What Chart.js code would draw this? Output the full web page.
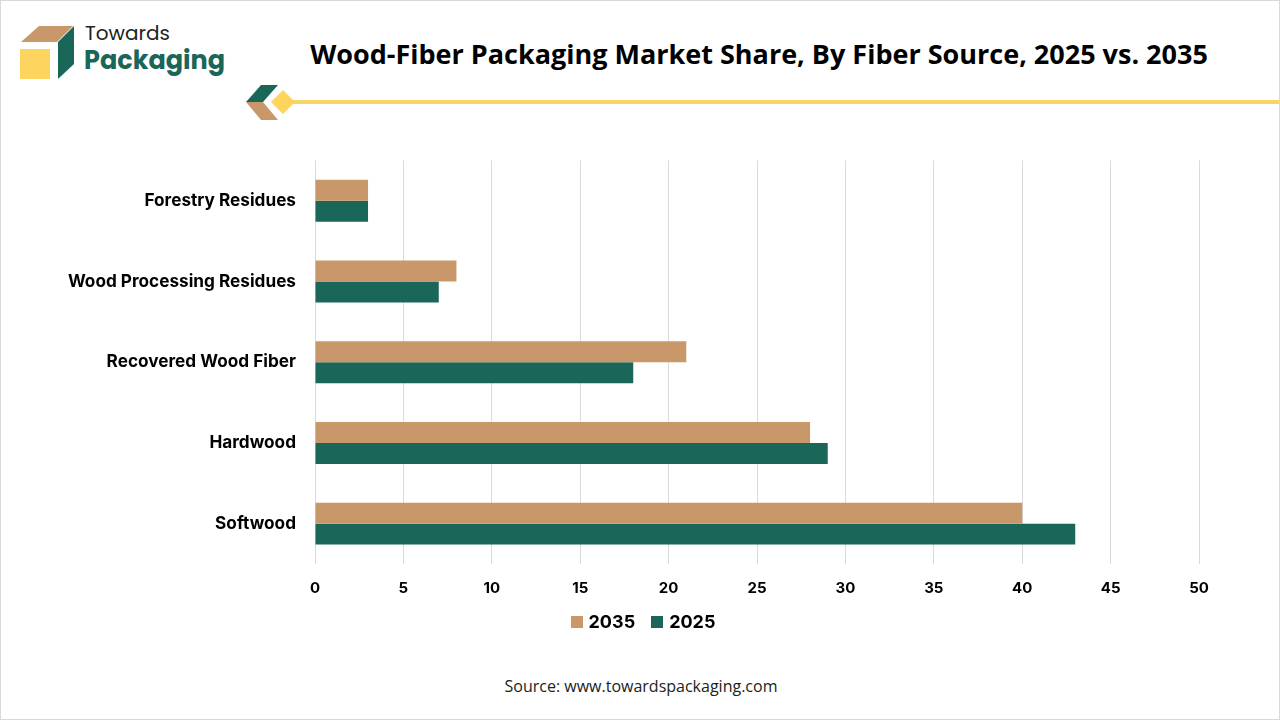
<!DOCTYPE html>
<html>
<head>
<meta charset="utf-8">
<script src="https://cdn.jsdelivr.net/npm/chart.js@4/dist/chart.umd.min.js"></script>
<style>
  body { margin: 0; background: #fff; }
  #page { position: relative; width: 1278px; height: 718px; border: 1px solid #d9d9d9; overflow: hidden; font-family: "Open Sans", sans-serif; }
  #title { position: absolute; left: 0; width: 1516px; top: 34px; text-align: center; font-weight: 700; font-size: 27px; color: #000; }
  #source { position: absolute; left: 0; width: 1280px; top: 674px; text-align: center; font-size: 16px; color: #222; }
  #chart-box { position: absolute; left: 0; top: 138px; width: 1280px; height: 473px; }
  #legend { position: absolute; left: 2px; width: 1280px; top: 610px; display: flex; justify-content: center; gap: 16px; font-family: Inter, "Liberation Sans", sans-serif; font-weight: 700; font-size: 18px; color: #000; }
  #legend .item { display: flex; align-items: center; gap: 6px; }
  #legend .box { width: 12px; height: 12px; }
</style>
</head>
<body>
<div id="page">
  <svg width="320" height="130" style="position:absolute;left:0;top:0">
    <polygon points="20,41 38,25 72,25 56,41" fill="#C8986A"/>
    <rect x="19" y="48" width="30" height="30" fill="#FCD45E"/>
    <polygon points="57,41 73,25 73,63 57,78" fill="#1A6658"/>
    <text x="84" y="39" font-family="Poppins, 'Open Sans', sans-serif" font-size="20" fill="#222">Towards</text>
    <text x="83" y="68" font-family="Poppins, 'Open Sans', sans-serif" font-size="25.5" font-weight="700" fill="#1A6658">Packaging</text>
    <polygon points="245,101 260,84 277,84 262,101" fill="#1A6658"/>
    <polygon points="245,101 262,101 277,119 260,119" fill="#C8986A"/>
    <polygon points="270,101 282,89 294,101 282,113" fill="#FCD45E"/>
  </svg>
  <div style="position:absolute;left:292px;top:99px;width:990px;height:4px;background:#F7D566"></div>
  <div id="title">Wood-Fiber Packaging Market Share, By Fiber Source, 2025 vs. 2035</div>
  <div id="chart-box"><canvas id="fiber-chart"></canvas></div>
  <div id="legend"></div>
  <div id="source">Source: www.towardspackaging.com</div>
</div>
<script>
const categories = ['Forestry Residues', 'Wood Processing Residues', 'Recovered Wood Fiber', 'Hardwood', 'Softwood'];
const share2035 = [3, 8, 21, 28, 40];
const share2025 = [3, 7, 18, 29, 43];
const tickValues = [0, 5, 10, 15, 20, 25, 30, 35, 40, 45, 50];

const catFont = { family: 'Inter, "Liberation Sans", sans-serif', size: 17.2, weight: '700' };
const tickFont = { family: 'Inter, "Liberation Sans", sans-serif', size: 15, weight: '700' };

const fiberChart = new Chart(document.getElementById('fiber-chart'), {
  type: 'bar',
  data: {
    labels: categories,
    datasets: [
      { label: '2035', data: share2035, backgroundColor: '#C8986A' },
      { label: '2025', data: share2025, backgroundColor: '#1A6658' }
    ]
  },
  options: {
    indexAxis: 'y',
    responsive: true,
    maintainAspectRatio: false,
    animation: false,
    datasets: { bar: { barPercentage: 1, categoryPercentage: 0.52 } },
    layout: { padding: { top: 10, right: 82, bottom: 0, left: 0 } },
    plugins: {
      tooltip: { enabled: false },
      legend: { display: false }
    },
    scales: {
      x: {
        min: 0,
        max: 50,
        afterBuildTicks: (scale) => { scale.ticks = tickValues.map(v => ({ value: v })); },
        grid: { color: '#d9d9d9', drawTicks: false },
        border: { display: false },
        ticks: { font: tickFont, color: '#000', padding: 15 }
      },
      y: {
        afterFit: (scale) => { scale.width = 314; },
        grid: { display: false },
        border: { display: false },
        ticks: { font: catFont, color: '#000', padding: 11 }
      }
    }
  }
});

// legend in html so it can sit centred on the page
const legendDiv = document.getElementById('legend');
fiberChart.data.datasets.forEach(ds => {
  const item = document.createElement('div');
  item.className = 'item';
  item.innerHTML = '<span class="box" style="background:' + ds.backgroundColor + '"></span>' + ds.label;
  legendDiv.appendChild(item);
});
</script>
</body>
</html>
